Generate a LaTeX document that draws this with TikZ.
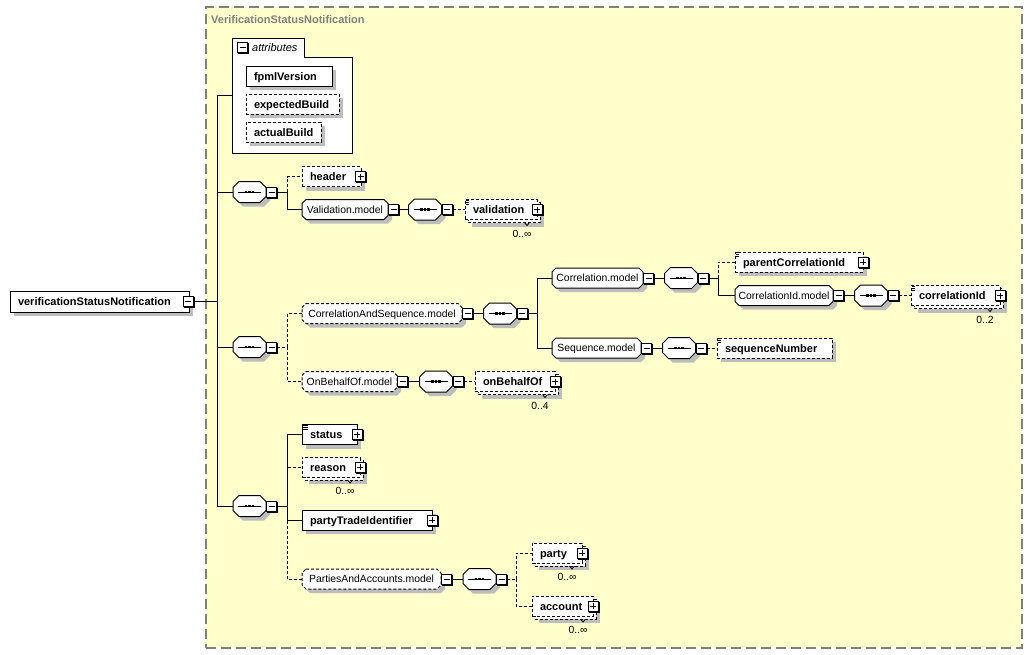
\documentclass[tikz,border=0pt]{standalone}
\usepackage{fontspec}
\setmainfont{Liberation Sans}
\definecolor{bgyellow}{HTML}{FFFFCC}
\definecolor{framegray}{HTML}{808080}
\definecolor{shgray}{HTML}{BDBDBD}
\newcommand\xelemfont{\fontsize{11}{13}\selectfont\bfseries}
\newcommand\xmodfont{\fontsize{10.4}{12}\selectfont}
% octagon path: x1, y1 (top), x2, y2 (bottom), chamfer
\newcommand\xoctabs[5]{(#1+#5,#2) -- (#3-#5,#2) -- (#3,#2+#5) -- (#3,#4-#5) -- (#3-#5,#4) -- (#1+#5,#4) -- (#1,#4-#5) -- (#1,#2+#5) -- cycle}
% element: name, x, yc, width, text width, style, text
\newcommand\xel[7]{%
  \fill[shgray] (#2+4,#3-6) rectangle (#2+#4+4,#3+14);
  \node[elem=#5, #6] (#1) at (#2,#3) {#7};}
% repeated element (stacked copy)
\newcommand\xmel[7]{%
  \fill[shgray] (#2+7,#3-3) rectangle (#2+#4+7,#3+17);
  \filldraw[fill=white, draw=black, line width=1pt, dash pattern=on 3pt off 2pt] (#2+3,#3-7) rectangle (#2+#4+3,#3+13);
  \node[elem=#5, #6] (#1) at (#2,#3) {#7};}
% model group: name, x, yc, width, style, text
\newcommand\xmodel[6]{%
  \fill[shgray] \xoctabs{#2+4}{#3-6}{#2+#4+4}{#3+14}{4};
  \filldraw[line width=1pt, fill=white, draw=black, #5] \xoctabs{#2}{#3-10}{#2+#4}{#3+10}{4};
  \node[model=#4] (#1) at (#2,#3) {#6};}
% sequence compositor: name, cx, yc
\newcommand\xcomp[3]{%
  \fill[shgray] \xoctabs{#2-12.5}{#3-6.5}{#2+20.5}{#3+14.5}{6};
  \filldraw[line width=1pt, fill=white, draw=black] \xoctabs{#2-16.5}{#3-10.5}{#2+16.5}{#3+10.5}{6};
  \draw[line width=1pt] (#2-11.5,#3) -- (#2+11.5,#3);
  \fill (#2-4.6,#3-1.3) rectangle (#2-2.2,#3+1.3);
  \fill (#2-1.2,#3-1.3) rectangle (#2+1.2,#3+1.3);
  \fill (#2+2.2,#3-1.3) rectangle (#2+4.6,#3+1.3);
  \node[comp] (#1) at (#2,#3) {};}
% plus / minus box with its black shadow: name, style, anchor, xshift
\newcommand\xpm[4]{%
  \node[pmsh] (#1sh) at ([xshift=#4+1pt,yshift=-1pt]#3) {};
  \node[#2] (#1) at ([xshift=#4]#3) {};}
\tikzset{
  optline/.style={dash pattern=on 3pt off 2pt},
  conn/.style={line width=1pt},
  optconn/.style={line width=1pt, dash pattern=on 3pt off 2pt},
  elem/.style={rectangle, draw=black, fill=white, line width=1pt, minimum height=20pt,
    inner xsep=8pt, inner ysep=0pt, outer sep=0pt, text width=#1pt, align=left, font=\xelemfont,
    text height=8pt, text depth=0pt, anchor=west},
  model/.style={rectangle, minimum width=#1pt, minimum height=20pt, inner sep=0pt,
    outer sep=0pt, font=\xmodfont, text height=7.5pt, text depth=0pt, anchor=west},
  comp/.style={rectangle, minimum width=33pt, minimum height=21pt, inner sep=0pt, outer sep=0pt},
  pmsh/.style={rectangle, fill=black, minimum width=11pt, minimum height=11pt, inner sep=0pt, outer sep=0pt},
  pmbox/.style={rectangle, draw=black, fill=white, line width=1pt, minimum width=10pt,
    minimum height=10pt, inner sep=0pt},
  minusbox/.style={pmbox, path picture={\draw[line width=1pt] ([xshift=2pt]path picture bounding box.west) -- ([xshift=-2pt]path picture bounding box.east);}},
  plusbox/.style={pmbox, path picture={\draw[line width=1pt] ([xshift=2pt]path picture bounding box.west) -- ([xshift=-2pt]path picture bounding box.east);
    \draw[line width=1pt] ([yshift=-2pt]path picture bounding box.north) -- ([yshift=2pt]path picture bounding box.south);}},
  eqicon/.style={path picture={\foreach \d in {0.5,2.5,4.5}{\draw[line width=0.9pt] ([xshift=1pt,yshift=-\d pt]path picture bounding box.north west) -- ++(5pt,0pt);}}},
  occ/.style={font=\xmodfont, inner sep=0pt, text height=7.5pt, text depth=0pt},
  notch/.style={line width=0.8pt}
}
\begin{document}
\begin{tikzpicture}[x=1pt,y=-1pt]
\useasboundingbox (0,0) rectangle (1032,654);
\fill[white] (0,0) rectangle (1032,654);
\node[rectangle, fill=bgyellow, draw=framegray, line width=1.5pt, dash pattern=on 10pt off 5pt,
  minimum width=816pt, minimum height=641pt, inner sep=0pt, anchor=north west] (area) at (205,6) {};
\node[anchor=west, inner sep=0pt, font=\xelemfont, text=framegray, text height=8pt, text depth=0pt] (title) at (211,19) {VerificationStatusNotification};

% attributes group
\node[rectangle, minimum width=120pt, minimum height=115pt, inner sep=0pt, anchor=north west] (attrs) at (232,38) {};
\draw[line width=1pt, fill=white] (232,153) -- (232,38) -- (304,38) -- (304,57) -- (352,57) -- (352,153) -- cycle;
\coordinate (attrmc) at (242.5,47.5);
\xpm{attrm}{minusbox}{attrmc}{0pt}
\node[anchor=west, inner sep=0pt, font=\fontsize{11}{13}\selectfont\itshape, text height=8pt, text depth=0pt] (attrl) at (252,47.5) {attributes};
\xel{fpml}{246}{76}{86}{70}{}{fpmlVersion}
\xel{expb}{246}{104}{93}{77}{optline}{expectedBuild}
\xel{actb}{246}{132}{75}{59}{optline}{actualBuild}

% root
\xel{root}{10}{301.5}{179}{163}{minimum height=21pt}{verificationStatusNotification}
\xpm{rootm}{minusbox}{root.east}{-1pt}
\coordinate (trunk) at (217,301.5);

% sequence 1
\xcomp{s1}{249.5}{192}
\xpm{s1m}{minusbox}{s1.east}{5.5pt}
\coordinate (j1) at (287,192);
\xel{header}{302}{176.5}{59}{43}{optline}{header}
\xpm{headerp}{plusbox}{header.east}{-0.5pt}
\xmodel{vm}{302}{209.5}{86}{}{Validation.model}
\xpm{vmm}{minusbox}{vm.east}{5.5pt}
\xcomp{vs}{425}{209.5}
\xpm{vsm}{minusbox}{vs.east}{5.5pt}
\xmel{val}{465}{209.5}{72}{56}{optline, eqicon}{validation}
\xpm{valp}{plusbox}{val.east}{0pt}
\node[occ] (valocc) at ([xshift=-15pt,yshift=-14pt]val.south east) {0..∞};
\draw[notch] ([xshift=-12.5pt,yshift=-3pt]val.south east) -- ++(2.5,3) -- ++(2.5,-3);

% sequence 2
\xcomp{s2}{249.5}{347}
\xpm{s2m}{minusbox}{s2.east}{5.5pt}
\coordinate (j2) at (287,347);
\xmodel{cas}{302}{313.5}{160}{optline}{CorrelationAndSequence.model}
\xpm{casm}{minusbox}{cas.east}{5.5pt}
\xcomp{cs}{500}{313.5}
\xpm{csm}{minusbox}{cs.east}{5.5pt}
\coordinate (jc) at (537,313.5);
\xmodel{corm}{552}{278}{91}{}{Correlation.model}
\xpm{cormm}{minusbox}{corm.east}{5.5pt}
\xcomp{crs}{681}{278}
\xpm{crsm}{minusbox}{crs.east}{5.5pt}
\coordinate (jcr) at (718,278);
\xel{pcid}{735}{262}{128}{112}{optline, eqicon}{parentCorrelationId}
\xpm{pcidp}{plusbox}{pcid.east}{0pt}
\xmodel{cidm}{735}{295.5}{98}{}{CorrelationId.model}
\xpm{cidmm}{minusbox}{cidm.east}{5.5pt}
\xcomp{cis}{871}{295.5}
\xpm{cism}{minusbox}{cis.east}{5.5pt}
\xmel{cid}{911}{295.5}{89}{73}{optline, eqicon}{correlationId}
\xpm{cidp}{plusbox}{cid.east}{0pt}
\node[occ] (cidocc) at ([xshift=-15pt,yshift=-14pt]cid.south east) {0..2};
\draw[notch] ([xshift=-12.5pt,yshift=-3pt]cid.south east) -- ++(2.5,3) -- ++(2.5,-3);
\xmodel{seqm}{552}{348}{89}{}{Sequence.model}
\xpm{seqmm}{minusbox}{seqm.east}{5.5pt}
\xcomp{sqs}{679}{348}
\xpm{sqsm}{minusbox}{sqs.east}{5.5pt}
\xel{sqn}{717}{348}{115}{99}{optline, eqicon}{sequenceNumber}
\xmodel{obm}{302}{381.5}{95}{optline}{OnBehalfOf.model}
\xpm{obmm}{minusbox}{obm.east}{5.5pt}
\xcomp{obs}{436}{381.5}
\xpm{obsm}{minusbox}{obs.east}{5.5pt}
\xmel{obo}{475}{381.5}{80}{64}{optline}{onBehalfOf}
\xpm{obop}{plusbox}{obo.east}{0pt}
\node[occ] (obocc) at ([xshift=-15pt,yshift=-14pt]obo.south east) {0..4};
\draw[notch] ([xshift=-12.5pt,yshift=-3pt]obo.south east) -- ++(2.5,3) -- ++(2.5,-3);

% sequence 3
\xcomp{s3}{249.5}{506}
\xpm{s3m}{minusbox}{s3.east}{5.5pt}
\coordinate (j3) at (287,506);
\xel{status}{302}{434.5}{55}{39}{eqicon}{status}
\xpm{statusp}{plusbox}{status.east}{0pt}
\xmel{reason}{302}{467}{58}{42}{optline}{reason}
\xpm{reasonp}{plusbox}{reason.east}{0pt}
\node[occ] (reasonocc) at ([xshift=-15pt,yshift=-14pt]reason.south east) {0..∞};
\draw[notch] ([xshift=-12.5pt,yshift=-3pt]reason.south east) -- ++(2.5,3) -- ++(2.5,-3);
\xel{pti}{302}{520}{130}{114}{}{partyTradeIdentifier}
\xpm{ptip}{plusbox}{pti.east}{0pt}
\xmodel{pam}{302}{579}{139}{optline}{PartiesAndAccounts.model}
\xpm{pamm}{minusbox}{pam.east}{5.5pt}
\xcomp{pas}{479.5}{579}
\xpm{pasm}{minusbox}{pas.east}{5.5pt}
\coordinate (jpa) at (516,579);
\xmel{party}{532}{553}{50}{34}{optline}{party}
\xpm{partyp}{plusbox}{party.east}{0pt}
\node[occ] (partyocc) at ([xshift=-15pt,yshift=-14pt]party.south east) {0..∞};
\draw[notch] ([xshift=-12.5pt,yshift=-3pt]party.south east) -- ++(2.5,3) -- ++(2.5,-3);
\xmel{account}{532}{606}{61}{45}{optline}{account}
\xpm{accountp}{plusbox}{account.east}{0pt}
\node[occ] (accountocc) at ([xshift=-15pt,yshift=-14pt]account.south east) {0..∞};
\draw[notch] ([xshift=-12.5pt,yshift=-3pt]account.south east) -- ++(2.5,3) -- ++(2.5,-3);

% connectors
\draw[conn] (rootm.east) -- (trunk);
\draw[conn] (trunk) |- (attrs.west);
\draw[conn] (trunk) |- (s1.west);
\draw[conn] (trunk) |- (s2.west);
\draw[conn] (trunk) |- (s3.west);

\draw[conn] (s1m.east) -- (j1);
\draw[optconn] (j1) |- (header.west);
\draw[conn] (j1) |- (vm.west);
\draw[conn] (vmm.east) -- (vs.west);
\draw[optconn] (vsm.east) -- (val.west);

\draw[optconn] (s2m.east) -- (j2);
\draw[optconn] (j2) |- (cas.west);
\draw[optconn] (j2) |- (obm.west);
\draw[conn] (casm.east) -- (cs.west);
\draw[conn] (csm.east) -- (jc);
\draw[conn] (jc) |- (corm.west);
\draw[conn] (jc) |- (seqm.west);
\draw[conn] (cormm.east) -- (crs.west);
\draw[conn] (crsm.east) -- (jcr);
\draw[optconn] (jcr) |- (pcid.west);
\draw[conn] (jcr) |- (cidm.west);
\draw[conn] (cidmm.east) -- (cis.west);
\draw[optconn] (cism.east) -- (cid.west);
\draw[conn] (seqmm.east) -- (sqs.west);
\draw[optconn] (sqsm.east) -- (sqn.west);
\draw[conn] (obmm.east) -- (obs.west);
\draw[optconn] (obsm.east) -- (obo.west);

\draw[optconn] (j3) |- (reason.west);
\draw[optconn] (j3) |- (pam.west);
\draw[conn] (s3m.east) -- (j3);
\draw[conn] (j3) |- (status.west);
\draw[conn] (j3) |- (pti.west);
\draw[conn] (pamm.east) -- (pas.west);
\draw[optconn] (pasm.east) -- (jpa);
\draw[optconn] (jpa) |- (party.west);
\draw[optconn] (jpa) |- (account.west);
\end{tikzpicture}
\end{document}
